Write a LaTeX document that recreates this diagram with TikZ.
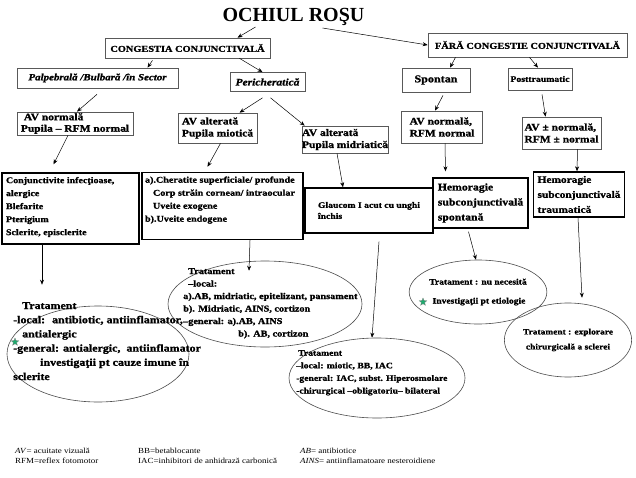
\documentclass[tikz,border=0pt]{standalone}
\usepackage{fontspec}
\setmainfont{Liberation Serif}[FakeStretch=1.15, BoldFeatures={FakeBold=1.2}, BoldItalicFeatures={FakeBold=1.2}]
\newfontfamily\titlefont{Liberation Serif}
\usetikzlibrary{shapes.geometric,arrows.meta}
\newcommand\fsz[2]{\fontsize{#1}{#2}\selectfont}
\definecolor{starg}{RGB}{30,170,110}
\begin{document}
\begin{tikzpicture}[x=1pt,y=-1pt,
  thinbox/.style={draw=black!65, line width=0.7pt, rectangle, inner sep=0pt, font=\bfseries},
  thickbox/.style={draw=black, line width=1.4pt, rectangle, inner sep=3pt, align=left},
  oval/.style={draw=black!70, line width=0.6pt, ellipse, inner sep=0pt},
  arr/.style={-{Stealth[length=5pt,width=4pt]}, line width=0.5pt},
  txt/.style={inner sep=0pt, align=left, anchor=north west},
  staricon/.style={star, star points=5, star point ratio=2.3, fill=starg, draw=black!50, line width=0.3pt, minimum size=8pt, inner sep=0pt}]
\useasboundingbox (0,0) rectangle (636,478);

\node[anchor=base, inner sep=0pt, font=\titlefont\bfseries\fsz{20}{22}] (title) at (293.5,22) {OCHIUL ROŞU};

\node[thinbox, minimum width=165, minimum height=20, font=\bfseries\fsz{9}{10}] (cong) at (187.5,48) {CONGESTIA CONJUNCTIVALĂ};
\node[thinbox, minimum width=199, minimum height=24, font=\bfseries\fsz{9}{10}] (fara) at (527.5,45) {FĂRĂ CONGESTIE CONJUNCTIVALĂ};

\node[thinbox, minimum width=161, minimum height=20, font=\bfseries\itshape\fsz{9.5}{10}] (palp) at (97.5,78) {Palpebrală /Bulbară /în Sector};
\node[thinbox, minimum width=75, minimum height=19, font=\bfseries\itshape\fsz{10}{10}] (peri) at (267.5,82) {Pericheratică};
\node[thinbox, minimum width=68, minimum height=24, font=\bfseries\fsz{10.5}{11}] (spontan) at (436,80) {Spontan};
\node[thinbox, minimum width=64, minimum height=22, font=\bfseries\fsz{8.5}{10}] (postt) at (540,79) {Posttraumatic};

\node[thinbox, minimum width=116, minimum height=23, align=left, font=\bfseries\fsz{10}{11.5}] (avn1) at (75,123.5) {\hspace*{3pt}AV normală\\Pupila – RFM normal};
\node[thinbox, minimum width=79, minimum height=30, align=left, font=\bfseries\fsz{10}{12}] (ava1) at (217.5,128) {AV alterată\\Pupila miotică};
\node[thinbox, minimum width=86, minimum height=27, align=left, font=\bfseries\fsz{10}{12}] (ava2) at (345,139.5) {AV alterată\\Pupila midriatică};
\node[thinbox, minimum width=81, minimum height=32, align=left, font=\bfseries\fsz{10}{12}] (avn2) at (442,127) {AV normală,\\RFM normal};
\node[thinbox, minimum width=79, minimum height=32, align=left, font=\bfseries\fsz{10}{12}] (avn3) at (561.5,133) {AV ± normală,\\RFM ± normal};

\node[thickbox, minimum width=137, minimum height=71, font=\bfseries\fsz{8.7}{13}] (conj) at (70.5,208.5)
  {\parbox[t][63pt][t]{129pt}{\raggedright Conjunctivite infecţioase,\\alergice\\Blefarite\\Pterigium\\Sclerite, episclerite}};
\node[thickbox, minimum width=161, minimum height=67, font=\bfseries\fsz{8.8}{13}] (cher) at (222.5,206)
  {\parbox[t][59pt][t]{155pt}{\raggedright a).Cheratite superficiale/ profunde\\\hspace*{8pt}Corp străin cornean/ intraocular\\\hspace*{8pt}Uveite exogene\\b).Uveite endogene}};
\node[thickbox, minimum width=128, minimum height=45, font=\bfseries\fsz{8.4}{11}] (glau) at (369,210.5) {Glaucom I acut cu unghi\\închis};
\node[thickbox, minimum width=95, minimum height=50, font=\bfseries\fsz{10.2}{15}] (hems) at (480.5,203) {Hemoragie\\subconjunctivală\\spontană};
\node[thickbox, minimum width=91, minimum height=45, font=\bfseries\fsz{9.9}{15}] (hemt) at (579,194.5) {Hemoragie\\subconjunctivală\\traumatică};

\node[oval, minimum width=182, minimum height=96] (trL) at (98,354) {};
\node[oval, minimum width=194, minimum height=86] (trM) at (265,304) {};
\node[oval, minimum width=176, minimum height=80] (trG) at (377,378) {};
\node[oval, minimum width=114, minimum height=64, align=center, font=\bfseries\fsz{8.3}{19}] (trS) at (478,292) {Tratament : nu necesită\\\hspace*{2pt}Investigaţii pt etiologie};
\node[oval, minimum width=112, minimum height=74, align=center, font=\bfseries\fsz{8.2}{15}] (trT) at (568,340) {Tratament : explorare\\chirurgicală a sclerei};

\node[txt, font=\bfseries\fsz{10.4}{14.2}] (trLtxt) at (13,302)
  {\hspace*{9pt}Tratament\\-local: \ antibiotic, antiinflamator,\\\hspace*{9pt}antialergic\\-general: antialergic, \ antiinflamator\\\hspace*{27pt}investigaţii pt cauze imune în\\sclerite};
\node[txt, font=\bfseries\fsz{8.9}{12.5}] (trMtxt) at (183,268)
  {\hspace*{5pt}Tratament\\\hspace*{5pt}–local:\\a).AB, midriatic, epitelizant, pansament\\b). Midriatic, AINS, cortizon\\–general: a).AB, AINS\\\hspace*{55pt}b). AB, cortizon};
\node[txt, font=\bfseries\fsz{8.4}{12.6}] (trGtxt) at (296,350)
  {\hspace*{2pt}Tratament\\–local: miotic, BB, IAC\\-general: IAC, subst. Hiperosmolare\\-chirurgical –obligatoriu– bilateral};

\node[staricon] (star1) at (15,342) {};
\node[staricon] (star2) at (423,302) {};

\node[txt, font=\fsz{7.8}{10}] (lg1) at (15,448) {\textit{AV}= acuitate vizuală\\RFM=reflex fotomotor};
\node[txt, font=\fsz{7.8}{10}] (lg2) at (138,448) {BB=betablocante\\IAC=inhibitori de anhidrază carbonică};
\node[txt, font=\fsz{7.8}{10}] (lg3) at (300,448) {\textit{AB}= antibiotice\\\textit{AINS}= antiinflamatoare nesteroidiene};

\draw[arr] ([shift={(-38,5)}]title.base) -- ([xshift=50pt]cong.north);
\draw[arr] ([shift={(29,6)}]title.base) -- (fara.west);
\draw[arr] ([shift={(-35,2)}]cong.south) -- ([xshift=50pt]palp.north);
\draw[arr] ([xshift=52pt]cong.south) -- ([xshift=-5pt]peri.north);
\draw[arr] ([xshift=-72pt]fara.south) -- ([xshift=14pt]spontan.north);
\draw[arr] ([xshift=2pt]fara.south) -- ([xshift=-2pt]postt.north);
\draw[arr] ([shift={(-0.5,6)}]palp.south) -- ([xshift=2pt]avn1.north);
\draw[arr] ([shift={(-5,6)}]peri.south) -- ([xshift=22pt]ava1.north);
\draw[arr] ([shift={(3,6)}]peri.south) -- ([xshift=3pt]ava2.north west);
\draw[arr] ([shift={(7,3)}]spontan.south) -- ([xshift=-7pt]avn2.north);
\draw[arr] ([shift={(2,4)}]postt.south) -- ([xshift=-16pt]avn3.north);
\draw[arr] ([xshift=-7pt]avn1.south) -- ([shift={(-17,-8)}]conj.north);
\draw[arr] ([xshift=3pt]ava1.south) -- ([shift={(-15,-5)}]cher.north);
\draw[arr] ([xshift=-8pt]ava2.south) -- ([xshift=-26pt]glau.north);
\draw[arr] ([xshift=3pt]avn2.south) -- ([shift={(-35,-6)}]hems.north);
\draw[arr] ([xshift=16pt]avn3.south) -- ([xshift=-2pt]hemt.north);
\draw[arr] ([xshift=-28.5pt]conj.south) -- ([shift={(-56,-21)}]trL.north);
\draw[arr] ([xshift=27.5pt]cher.south) -- ([shift={(-16,10)}]trM.north);
\draw[arr] ([shift={(10,8)}]glau.south) -- ([xshift=-5pt]trG.north);
\draw[arr] ([shift={(-12,3)}]hems.south) -- ([xshift=-2pt]trS.north);
\draw[arr] ([xshift=-1pt]hemt.south) -- ([shift={(14,-5)}]trT.north);
\end{tikzpicture}
\end{document}
